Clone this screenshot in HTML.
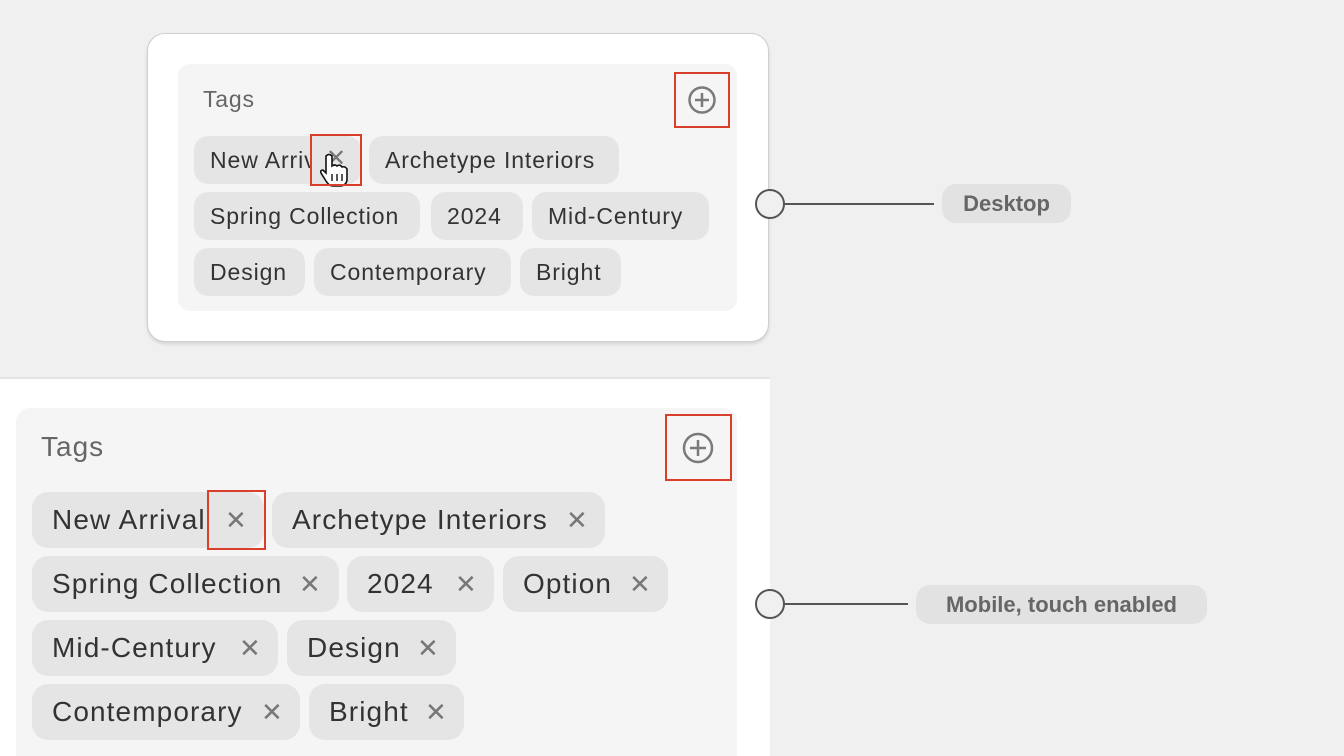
<!DOCTYPE html>
<html style="width:1344px;height:756px;overflow:hidden"><head><style>
*{margin:0;padding:0;box-sizing:border-box}
body{width:1344px;height:756px;background:#f0f0f0;position:relative;overflow:hidden;font-family:"Liberation Sans",sans-serif}
.a{position:absolute}
.chip{position:absolute;background:#e5e5e5;border-radius:14px;color:#333;white-space:nowrap;overflow:hidden}
.d{height:48px;font-size:23px;letter-spacing:0.9px;line-height:48px;padding-left:16px}
.m{height:56px;font-size:28px;letter-spacing:1.1px;line-height:56px;padding-left:20px;border-radius:16px}
.x{position:absolute;color:#777;font-size:26px}
.red{position:absolute;border:2px solid #d9402c}
.pill{position:absolute;background:#e2e2e2;border-radius:14px;color:#666;font-weight:bold;font-size:22px;text-align:center;line-height:39px;height:39px}
</style></head><body>
<div class="a" style="left:147px;top:33px;width:622px;height:309px;background:#fff;border:1px solid #cfcfcf;border-radius:18px;box-shadow:0 2px 3px rgba(0,0,0,.12)"></div>
<div class="a" style="left:178px;top:64px;width:559px;height:247px;background:#f5f5f5;border-radius:12px"></div>
<div class="a" style="left:203px;top:86px;font-size:23px;letter-spacing:0.8px;color:#666">Tags</div>
<svg class="a" style="left:686px;top:84px" width="32" height="32"><circle cx="16" cy="16" r="12.5" fill="none" stroke="#7a7a7a" stroke-width="2.5"/><path d="M16 9v14M9 16h14" stroke="#7a7a7a" stroke-width="2.5"/></svg>
<div class="red" style="left:674px;top:72px;width:56px;height:56px"></div>
<div class="chip d" style="left:194px;top:136px;width:167px">New Arrival</div>
<div class="a" style="left:311px;top:136px;width:50px;height:48px;background:#e5e5e5;border-radius:0 14px 14px 0"></div>
<div class="x" style="left:326px;top:144px;font-size:24px">✕</div>
<svg class="a" style="left:318px;top:152px" width="34" height="38"><path d="M8 4 q3-3 6 0 v10 q3-2 5 0 q3-2 5 1 q3-1 5 2 v10 q0 6-6 7 h-8 q-4 0-7-5 l-5-8 q-1-3 2-3 l3 3 z" fill="#fff" stroke="#111" stroke-width="1.6"/><path d="M14 22v7M19 22v7M24 22v7" stroke="#111" stroke-width="1.4"/></svg>
<div class="red" style="left:310px;top:134px;width:52px;height:52px"></div>
<div class="chip d" style="left:369px;top:136px;width:250px">Archetype Interiors</div>
<div class="chip d" style="left:194px;top:192px;width:226px">Spring Collection</div>
<div class="chip d" style="left:431px;top:192px;width:92px">2024</div>
<div class="chip d" style="left:532px;top:192px;width:177px">Mid-Century</div>
<div class="chip d" style="left:194px;top:248px;width:111px">Design</div>
<div class="chip d" style="left:314px;top:248px;width:197px">Contemporary</div>
<div class="chip d" style="left:520px;top:248px;width:101px">Bright</div>

<div class="a" style="left:0;top:377px;width:770px;height:379px;background:#fff;border-top:2px solid #e4e4e4"></div>
<div class="a" style="left:16px;top:408px;width:721px;height:348px;background:#f5f5f5;border-radius:14px 14px 0 0"></div>
<div class="a" style="left:41px;top:431px;font-size:28px;letter-spacing:1px;color:#666">Tags</div>
<svg class="a" style="left:681px;top:431px" width="34" height="34"><circle cx="17" cy="17" r="14" fill="none" stroke="#7a7a7a" stroke-width="2.5"/><path d="M17 9v16M9 17h16" stroke="#7a7a7a" stroke-width="2.5"/></svg>
<div class="red" style="left:665px;top:414px;width:67px;height:67px"></div>

<div class="chip m" style="left:32px;top:492px;width:232px">New Arrival</div><div class="x" style="left:225px;top:505px">✕</div>
<div class="red" style="left:207px;top:490px;width:59px;height:60px"></div>
<div class="chip m" style="left:272px;top:492px;width:333px">Archetype Interiors</div><div class="x" style="left:566px;top:505px">✕</div>
<div class="chip m" style="left:32px;top:556px;width:307px">Spring Collection</div><div class="x" style="left:299px;top:569px">✕</div>
<div class="chip m" style="left:347px;top:556px;width:147px">2024</div><div class="x" style="left:455px;top:569px">✕</div>
<div class="chip m" style="left:503px;top:556px;width:165px">Option</div><div class="x" style="left:629px;top:569px">✕</div>
<div class="chip m" style="left:32px;top:620px;width:246px">Mid-Century</div><div class="x" style="left:239px;top:633px">✕</div>
<div class="chip m" style="left:287px;top:620px;width:169px">Design</div><div class="x" style="left:417px;top:633px">✕</div>
<div class="chip m" style="left:32px;top:684px;width:268px">Contemporary</div><div class="x" style="left:261px;top:697px">✕</div>
<div class="chip m" style="left:309px;top:684px;width:155px">Bright</div><div class="x" style="left:425px;top:697px">✕</div>

<svg class="a" style="left:0;top:0" width="1344" height="756">
<circle cx="770" cy="204" r="14" fill="#f0f0f0" stroke="#555" stroke-width="2"/>
<line x1="784" y1="204" x2="934" y2="204" stroke="#555" stroke-width="2"/>
<circle cx="770" cy="604" r="14" fill="#f0f0f0" stroke="#555" stroke-width="2"/>
<line x1="784" y1="604" x2="908" y2="604" stroke="#555" stroke-width="2"/>
</svg>
<div class="pill" style="left:942px;top:184px;width:129px">Desktop</div>
<div class="pill" style="left:916px;top:585px;width:291px">Mobile, touch enabled</div>
</body></html>
